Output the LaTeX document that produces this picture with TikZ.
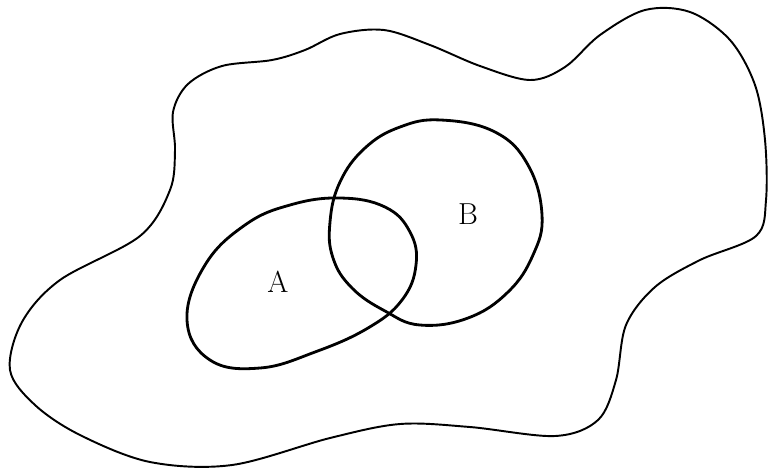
\documentclass[tikz,border=0pt]{standalone}
\usepackage{tikz}
\usetikzlibrary{positioning}

\begin{document}
\begin{tikzpicture}[
  x=0.2mm,y=-0.2mm,
  universe/.style={draw=black,line width=1.1pt,line join=round},
  setline/.style={draw=black,line width=1.6pt,line join=round},
  setlabel/.style={font=\LARGE,inner sep=0pt}
]
\useasboundingbox (0,0) rectangle (768,472);

% outer region
\draw[universe] plot[smooth cycle,tension=0.55] coordinates {
  (173,112) (188,84) (222,66) (272,60) (305,50) (340,34) (384,30)
  (430,45) (480,66) (530,80) (565,67) (600,35) (645,10) (690,12)
  (730,40) (755,85) (765,140) (766,200) (756,236) (700,260)
  (655,287) (626,325) (616,380) (598,420) (555,436) (470,427)
  (400,424) (330,438) (232,465) (150,462) (80,435) (35,405)
  (10,370) (22,322) (60,280) (140,236) (170,190) (175,150)};

% set A
\draw[setline] plot[smooth cycle,tension=0.7] coordinates {
  (187,320) (205,265) (245,225) (290,205) (340,198) (385,207)
  (410,232) (416,265) (402,300) (368,328) (315,352) (260,368)
  (210,360)};

% set B
\draw[setline] plot[smooth cycle,tension=0.7] coordinates {
  (441,120) (495,132) (528,165) (542,215) (533,255) (508,292)
  (468,318) (420,325) (385,311) (352,288) (333,258) (330,222)
  (340,182) (365,148) (400,127)};

\node[setlabel] (labA) at (278,282) {A};
\node[setlabel] (labB) at (468,214) {B};
\end{tikzpicture}
\end{document}
